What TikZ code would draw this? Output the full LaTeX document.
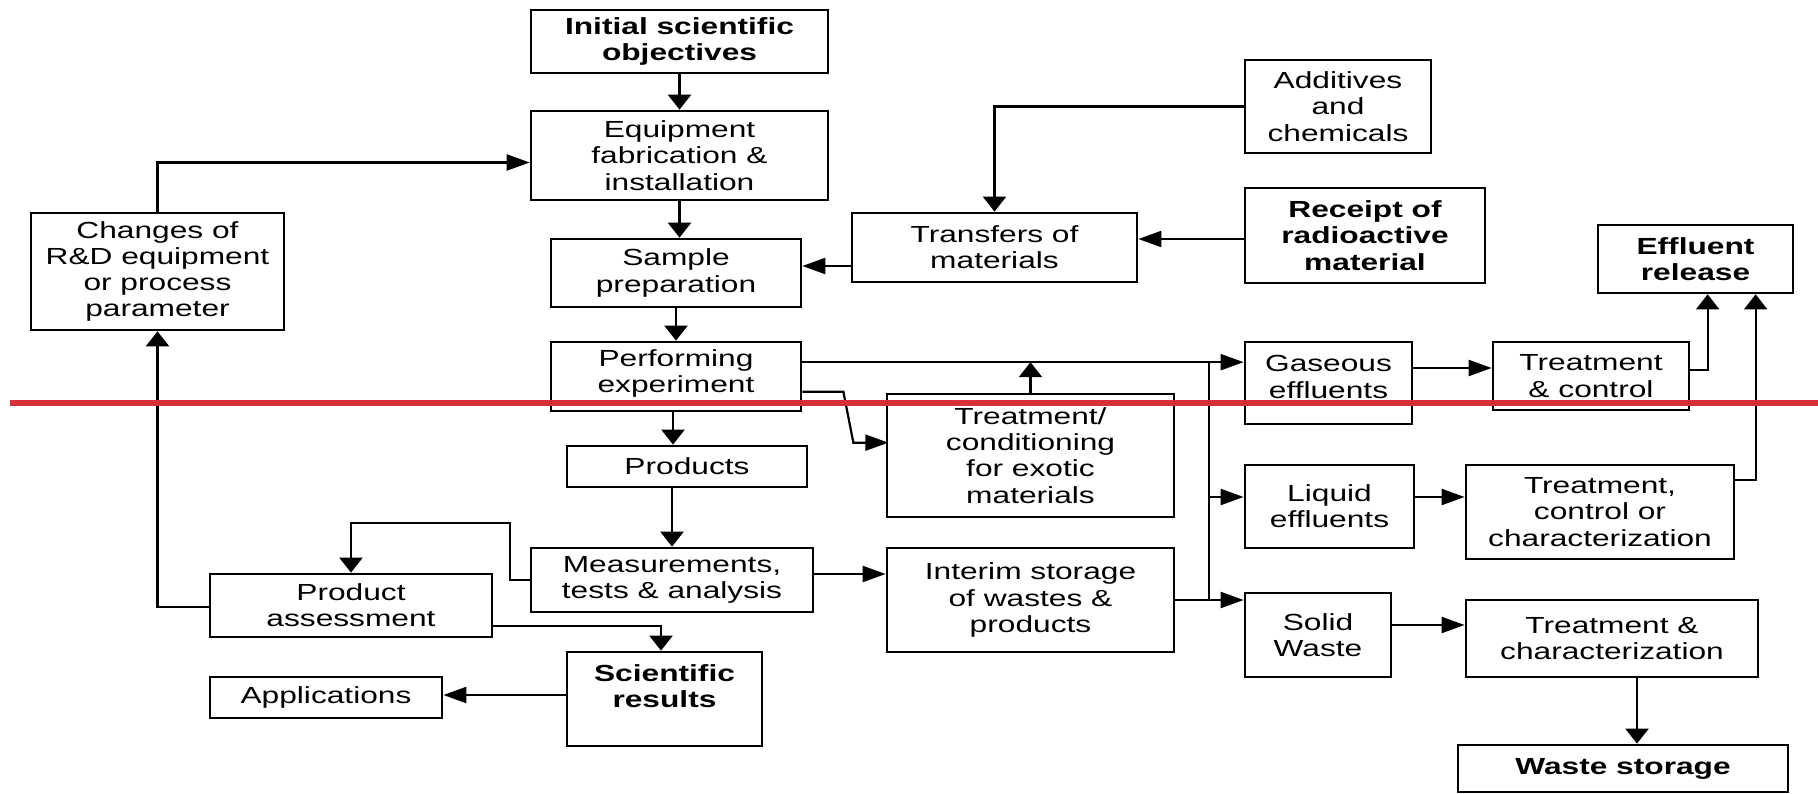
\documentclass[tikz,border=0pt]{standalone}
\usepackage{fontspec}
\setmainfont{Liberation Sans}[FakeStretch=1.36]
\usetikzlibrary{arrows.meta,calc}
\definecolor{refred}{RGB}{214,48,56}
\begin{document}
\begin{tikzpicture}[x=1bp,y=-1bp,
  nbox/.style={draw, line width=2.7bp, align=center, inner sep=0pt, font=\fontsize{23.3bp}{26.2bp}\selectfont},
  bbox/.style={nbox, font=\fontsize{23.3bp}{26.2bp}\selectfont\bfseries},
  ntext/.style={align=center, inner sep=0pt, font=\fontsize{23.3bp}{26.2bp}\selectfont},
  conn/.style={line width=2.2bp},
  harr/.style={conn, -{Triangle[length=23bp,width=16bp]}},
  varr/.style={conn, -{Triangle[length=15bp,width=23bp]}},
  redline/.style={line width=6bp, draw=refred}]
\useasboundingbox (0,0) rectangle (1818,794);

% boxes
\node[bbox, minimum width=297bp, minimum height=63bp] (init) at (679.5,41.5) {Initial scientific\\objectives};
\node[nbox, minimum width=297bp, minimum height=89bp] (equip) at (679.5,155.5) {Equipment\\fabrication \&\\installation};
\node[nbox, minimum width=253bp, minimum height=117bp] (changes) at (157.5,271.5) {Changes of\\R\&D equipment\\or process\\parameter};
\node[nbox, minimum width=250bp, minimum height=68bp] (sample) at (676,273) {Sample\\preparation};
\node[nbox, minimum width=285bp, minimum height=69bp] (transfers) at (994.5,247.5) {Transfers of\\materials};
\node[nbox, minimum width=186bp, minimum height=93bp] (additives) at (1338,106.5) {Additives\\and\\chemicals};
\node[bbox, minimum width=240bp, minimum height=95bp] (receipt) at (1365,235.5) {Receipt of\\radioactive\\material};
\node[bbox, minimum width=195bp, minimum height=68bp] (effluent) at (1695.5,259) {Effluent\\release};
\node[nbox, minimum width=250bp, minimum height=69bp] (perform) at (676,376.5) {};
\node[ntext] (performtext) at ($(perform.center)+(0,-3)$) {Performing\\experiment};
\node[nbox, minimum width=167bp, minimum height=82bp] (gaseous) at (1328.5,383) {};
\node[ntext] (gaseoustext) at ($(gaseous.center)+(0,-6)$) {Gaseous\\effluents};
\node[nbox, minimum width=196bp, minimum height=68bp] (tc) at (1591,376) {Treatment\\\& control};
\node[nbox, minimum width=287bp, minimum height=123bp] (tcond) at (1030.5,455.5) {Treatment/\\conditioning\\for exotic\\materials};
\node[nbox, minimum width=240bp, minimum height=41bp] (products) at (687,466.5) {Products};
\node[nbox, minimum width=169bp, minimum height=83bp] (liquid) at (1329.5,506.5) {Liquid\\effluents};
\node[nbox, minimum width=268bp, minimum height=94bp] (tcc) at (1600,512) {Treatment,\\control or\\characterization};
\node[nbox, minimum width=282bp, minimum height=64bp] (meas) at (672,580) {Measurements,\\tests \& analysis};
\node[nbox, minimum width=282bp, minimum height=63bp] (pa) at (351,605.5) {Product\\assessment};
\node[nbox, minimum width=287bp, minimum height=104bp] (interim) at (1030.5,600) {Interim storage\\of wastes \&\\products};
\node[nbox, minimum width=146bp, minimum height=84bp] (solid) at (1318,635) {Solid\\Waste};
\node[nbox, minimum width=292bp, minimum height=77bp] (tchar) at (1612,638.5) {Treatment \&\\characterization};
\node[nbox, minimum width=195bp, minimum height=94bp] (sci) at (664.5,699) {};
\node[bbox, draw=none] (scitext) at ($(sci.center)+(0,-13)$) {Scientific\\results};
\node[nbox, minimum width=232bp, minimum height=41bp] (apps) at (326,697.5) {Applications};
\node[bbox, minimum width=330bp, minimum height=47bp] (waste) at (1623,768.5) {Waste storage};

% connectors
\draw[varr] (init) -- (equip);
\draw[harr] (changes.north) |- ($(equip.west)+(0,7)$);
\draw[varr] (equip.south) -- (equip.south |- sample.north);
\coordinate (t1) at ($(transfers.west)+(0,18.5)$);
\draw[harr] (t1) -- (t1 -| sample.east);
\draw[varr] (additives.west) -| (transfers.north);
\coordinate (r1) at ($(receipt.west)+(0,3.5)$);
\draw[harr] (r1) -- (r1 -| transfers.east);
\draw[varr] (sample.south) -- (perform.north);
\coordinate (p1) at ($(perform.north east)+(0,21.5)$);
\draw[harr] (p1) -- (p1 -| gaseous.west);
\draw[varr] (tcond.north) -- (tcond.north |- p1);
\draw[harr] ($(perform.north east)+(0,51)$) -- ++(41,0) -- ++(10,51) -- ++(35,0);
\coordinate (bt) at ($(p1 -| gaseous.west)+(-35,0)$);
\coordinate (bb) at (interim.east -| bt);
\draw[conn] (bt) -- (bb);
\coordinate (l0) at ($(liquid.west)+(0,-9.5)$);
\draw[harr] (l0 -| bt) -- (l0);
\draw[harr] (interim.east) -- (interim.east -| solid.west);
\coordinate (g1) at ($(gaseous.east)+(0,-15)$);
\draw[harr] (g1) -- (g1 -| tc.west);
\coordinate (e1) at ($(effluent.south west)+(111,0)$);
\draw[varr] ($(tc.east)+(0,-6)$) -| (e1);
\coordinate (e2) at ($(effluent.south west)+(159,0)$);
\draw[varr] ($(tcc.north east)+(0,16)$) -| (e2);
\coordinate (l1) at ($(liquid.east)+(0,-9.5)$);
\draw[harr] (l1) -- (l1 -| tcc.west);
\coordinate (s1) at ($(solid.east)+(0,-10)$);
\draw[harr] (s1) -- (s1 -| tchar.west);
\coordinate (w1) at ($(tchar.south)+(25,0)$);
\draw[varr] (w1) -- (w1 |- waste.north);
\coordinate (pp) at ($(perform.south)+(-3,0)$);
\draw[varr] (pp) -- (pp |- products.north);
\draw[varr] (meas.north |- products.south) -- (meas.north);
\coordinate (m1) at ($(meas.east)+(0,-6)$);
\draw[harr] (m1) -- (m1 -| interim.west);
\draw[varr] (meas.west) -- ++(-20,0) -- ++(0,-57) -| (pa.north);
\draw[varr] ($(pa.east)+(0,20.5)$) -| ($(sci.north)+(-3.5,0)$);
\coordinate (a1) at ($(sci.west)+(0,-4)$);
\draw[harr] (a1) -- (a1 -| apps.east);
\draw[varr] ($(pa.west)+(0,1.5)$) -| (changes.south);

% red line across the picture
\draw[redline] (10,403) -- (1818,403);
\end{tikzpicture}
\end{document}
